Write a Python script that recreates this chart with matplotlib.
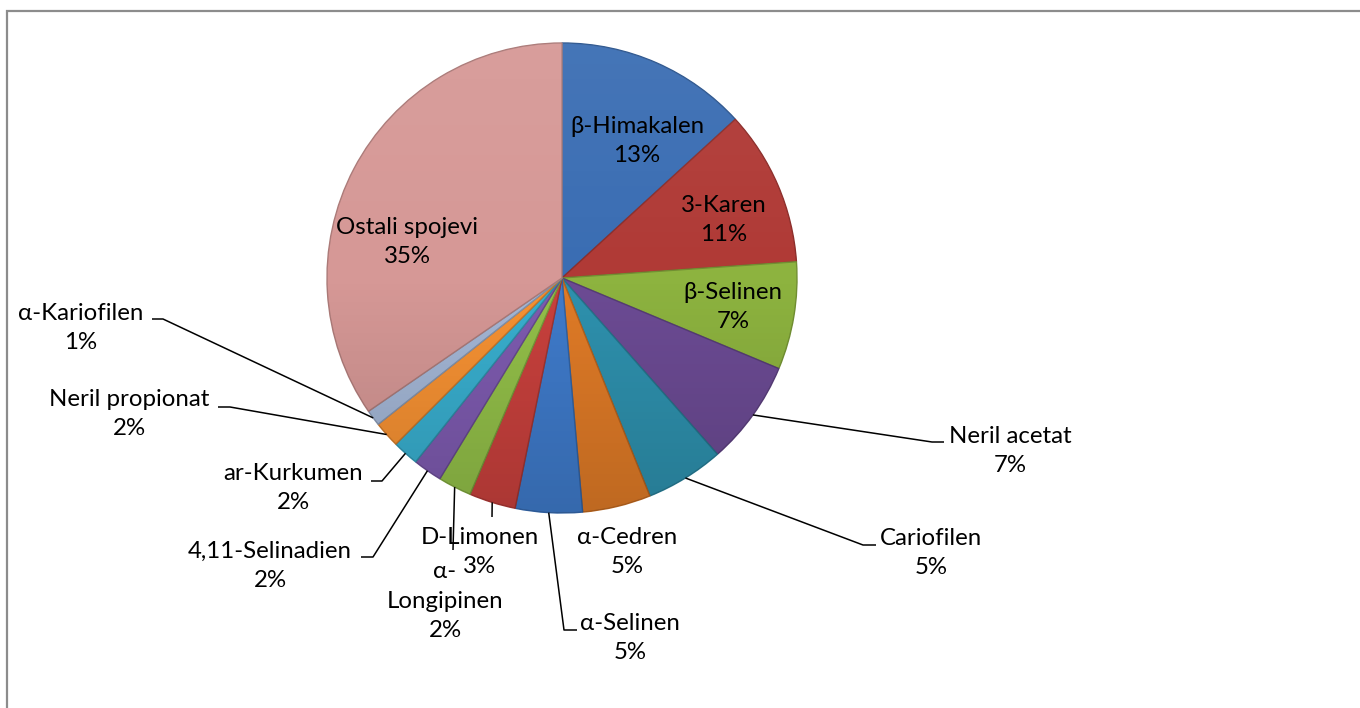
import numpy as np
import matplotlib.pyplot as plt
from matplotlib.patches import Circle, Rectangle
from matplotlib.colors import to_rgb

# composition of the essential oil, share in percent (clockwise from 12 o'clock)
compounds = ["β-Himakalen", "3-Karen", "β-Selinen", "Neril acetat", "Cariofilen",
             "α-Cedren", "α-Selinen", "D-Limonen", "α-\nLongipinen", "4,11-Selinadien",
             "ar-Kurkumen", "Neril propionat", "α-Kariofilen", "Ostali spojevi"]
shares = [13.2, 10.7, 7.4, 7.2, 5.4, 4.7, 4.6, 3.2, 2.3, 2.0, 1.8, 1.8, 1.1, 34.6]

colors = ["#3A6DB3", "#B03A36", "#8DB33F", "#6C4B94", "#2E91AE", "#E07B27",
          "#3F7BCB", "#C9413D", "#93C049", "#7E5BB0", "#39AFCF", "#F79233",
          "#A4B7D6", "#D69896"]

W, H = 1360, 708
CX, CY, R = 562, 278, 235   # pie centre / radius in pixels (y from top)

# label layout in pixels: text centre, elbow point, end of short horizontal tick
layout = {
    0: dict(text=(637, 141)),
    1: dict(text=(724, 220)),
    2: dict(text=(733, 307)),
    3: dict(text=(1010, 451), elbow=(932, 442), tick=(944, 442)),
    4: dict(text=(931, 553), elbow=(863, 545), tick=(876, 545)),
    5: dict(text=(627, 552)),
    6: dict(text=(630, 638), elbow=(564, 630), tick=(577, 630)),
    7: dict(text=(480, 552), elbow=(492, 517)),
    8: dict(text=(445, 601), elbow=(453, 550)),
    9: dict(text=(270, 566), elbow=(373, 557), tick=(361, 557)),
    10: dict(text=(293, 488), elbow=(382, 481), tick=(371, 481)),
    11: dict(text=(129, 414), elbow=(230, 407), tick=(218, 407)),
    12: dict(text=(81, 328), elbow=(163, 319), tick=(152, 319)),
    13: dict(text=(407, 242)),
}


def px(x, y):
    return x, H - y


plt.rcParams['font.family'] = ['Lato', 'DejaVu Sans']

fig = plt.figure(figsize=(W / 100, H / 100), dpi=100)
ax = fig.add_axes([0, 0, 1, 1])

wedges, _ = ax.pie(shares, colors=colors, startangle=90, counterclock=False,
                   center=px(CX, CY), radius=R,
                   wedgeprops=dict(linewidth=1.0))
for w, c in zip(wedges, colors):
    w.set_edgecolor(tuple(v * 0.8 for v in to_rgb(c)))

ax.set_xlim(0, W)
ax.set_ylim(0, H)
ax.set_aspect('equal')
ax.axis('off')

# soft lighting across the pie: slightly lighter top, darker bottom
grad = np.linspace(0, 1, 256)[:, None]
shade = np.zeros((256, 1, 4))
shade[..., :3] = np.where(grad < 0.5, 1.0, 0.0)[..., None]
shade[..., 3] = np.where(grad < 0.5, (0.5 - grad) * 0.12, (grad - 0.5) * 0.3)
img = ax.imshow(shade, extent=(CX - R, CX + R, H - CY - R, H - CY + R),
                origin='upper', aspect='auto', zorder=3)
clip = Circle(px(CX, CY), R, transform=ax.transData)
img.set_clip_path(clip)

# labels and leader lines
total = sum(shares)
cum = 0.0
for i, (name, val) in enumerate(zip(compounds, shares)):
    mid = (cum + val / 2) / total * 360.0
    cum += val
    ex = CX + R * np.sin(np.radians(mid))
    ey = CY - R * np.cos(np.radians(mid))
    lay = layout[i]
    txt = name + "\n" + "%d%%" % round(val)
    tx, ty = lay['text']
    ax.text(*px(tx, ty), txt, ha='center', va='center', multialignment='center',
            fontsize=17.3, linespacing=1.5, color='black', zorder=5)
    if 'elbow' in lay:
        pts = [(ex, ey), lay['elbow']]
        if 'tick' in lay:
            pts.append(lay['tick'])
        xs = [p[0] for p in pts]
        ys = [H - p[1] for p in pts]
        ax.plot(xs, ys, color='black', linewidth=1.1, zorder=4,
                solid_capstyle='butt')

# chart frame
fig.patches.append(Rectangle((7 / W, -0.01), 1.05, (H - 10.5) / H + 0.01,
                             transform=fig.transFigure, fill=False,
                             edgecolor='#8c8c8c', linewidth=1.6))

fig.savefig('out.png', dpi=100, facecolor='white')
